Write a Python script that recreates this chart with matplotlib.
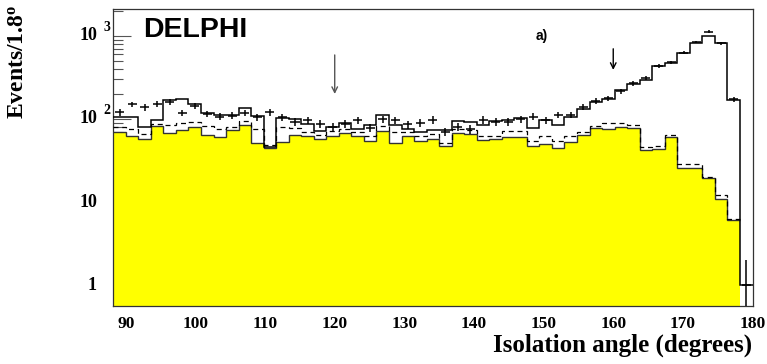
import numpy as np
import matplotlib
matplotlib.use('Agg')
import matplotlib.pyplot as plt

plt.rcParams['mathtext.fontset'] = 'custom'
plt.rcParams['mathtext.rm'] = 'Liberation Serif:bold'
plt.rcParams['mathtext.bf'] = 'Liberation Serif:bold'
plt.rcParams['mathtext.it'] = 'Liberation Serif:bold'

# binning: 1.8 degree bins starting at 88.2
bin_start = 88.2
bin_width = 1.8
n_bins = 51

# data points (events per bin)
data_counts = [120, 150, 138, 153, 160, 119, 143, 115, 107, 110,
               118, 105, 120, 105, 92, 97, 88, 80, 88, 96,
               78, 100, 97, 86, 90, 98, 70, 81, 75, 98,
               92, 93, 99, 107, 97, 112, 112, 140, 166, 178,
               215, 268, 310, 437, 480, 625, 840, 1130, 816, 173,
               1]

# total simulation (solid line)
total_mc = [107, 105, 79, 97, 169, 174, 150, 117, 112, 112,
            135, 109, 46, 102, 100, 87, 72, 81, 89, 75,
            84, 112, 84, 76, 69, 73, 74, 95, 93, 85,
            95, 97, 102, 77, 97, 85, 107, 131, 160, 175,
            223, 265, 298, 430, 476, 617, 816, 1000, 816, 168,
            1]

# alternative simulation (dashed line)
alt_mc = [80, 75, 66, 88, 85, 90, 92, 82, 75, 80,
          95, 75, 48, 80, 77, 70, 64, 72, 75, 70,
          62, 82, 70, 70, 62, 66, 52, 75, 74, 62,
          62, 72, 72, 55, 62, 55, 62, 70, 82, 89,
          89, 85, 46, 47, 64, 29, 29, 20, 12, 6.2]

# background contribution (yellow)
background = [69, 62, 57, 83, 67, 74, 81, 65, 61, 74,
              84, 51, 45, 53, 65, 62, 57, 63, 67, 63,
              54, 72, 52, 63, 54, 58, 47, 67, 66, 56,
              58, 60, 60, 47, 50, 45, 53, 64, 77, 75,
              79, 77, 42, 43, 60, 25.5, 25.5, 19.3, 10.8, 6.1]

# cut positions (arrows)
cut_x = [120, 160]
cut_from = [590, 700]
cut_to = [200, 390]
cut_colors = ['#555555', 'black']

edges = bin_start + bin_width * np.arange(n_bins + 1)
centers = 0.5 * (edges[:-1] + edges[1:])

fig = plt.figure(figsize=(7.67, 3.64), dpi=100)
ax = fig.add_axes([0.1477, 0.1593, 0.8334, 0.816])
ax.set_axisbelow(True)

# yellow background
ax.stairs(background, edges[:len(background) + 1], fill=True, baseline=1e-3,
          color='#ffff00', zorder=1)
ax.stairs(background, edges[:len(background) + 1], baseline=None,
          color='#333333', lw=1.0, zorder=2)

# dashed simulation
ax.stairs(alt_mc, edges[:len(alt_mc) + 1], baseline=None, color='black',
          lw=0.9, ls=(0, (4, 3)), zorder=3)

# solid total simulation
ax.stairs(total_mc, edges, baseline=None, color='black', lw=1.1, zorder=4)

# data with errors
d = np.array(data_counts, dtype=float)
err = np.sqrt(d)
lower = np.minimum(err, d * 0.999)
ax.errorbar(centers, d, xerr=0.65, yerr=[lower, err], fmt='none',
            ecolor='black', elinewidth=1.1, capsize=0, zorder=5)

# arrows marking cuts
for x, y0, y1, c in zip(cut_x, cut_from, cut_to, cut_colors):
    ax.annotate('', xy=(x, y1), xytext=(x, y0),
                arrowprops=dict(arrowstyle='->', color=c, lw=1.0,
                                shrinkA=0, shrinkB=0))

ax.set_xlim(edges[0], edges[-1])
ax.set_yscale('log')
ax.set_ylim(0.56, 2110)

# ticks
ax.set_xticks([90, 100, 110, 120, 130, 140, 150, 160, 170, 180])
ax.tick_params(axis='x', which='both', direction='in', length=0, pad=7,
               labelsize=12.5)
for lab in ax.get_xticklabels():
    lab.set_fontfamily('Liberation Serif')
    lab.set_fontweight('bold')
ax.tick_params(axis='y', which='major', direction='in', length=13, width=0.8,
               labelleft=False, color='#555555')
ax.tick_params(axis='y', which='minor', direction='in', length=7, width=0.8,
               color='#555555')

# y tick labels, ROOT style
ytr = ax.get_yaxis_transform()
for val, base, sup in [(1, '1', ''), (10, '10', ''), (100, '10', '2'), (1000, '10', '3')]:
    ax.text(-0.0255, val, base, transform=ytr, ha='right', va='center',
            fontsize=13, fontweight='bold', family='Liberation Serif')
    if sup:
        ax.text(-0.0150, val * 1.28, sup, transform=ytr, ha='left', va='center',
                fontsize=10, fontweight='bold', family='Liberation Serif')

for s in ax.spines.values():
    s.set_linewidth(0.9)
    s.set_color('#333333')

ax.text(0.0465, 0.929, 'DELPHI', transform=ax.transAxes, ha='left',
        va='center', fontsize=20.5, fontweight='bold', family='Liberation Sans')
ax.text(0.67, 0.908, 'a)', transform=ax.transAxes, ha='center', va='center',
        fontsize=10, fontweight='bold', family='Liberation Sans')

fig.text(0.024, 0.83, 'Events/1.8$^{o}$', rotation=90, ha='center',
         va='center', fontsize=17, fontweight='bold', family='Liberation Serif')
fig.text(0.981, 0.052, 'Isolation angle (degrees)', ha='right', va='center',
         fontsize=18, fontweight='bold', family='Liberation Serif')

fig.savefig('out.png', dpi=100)
